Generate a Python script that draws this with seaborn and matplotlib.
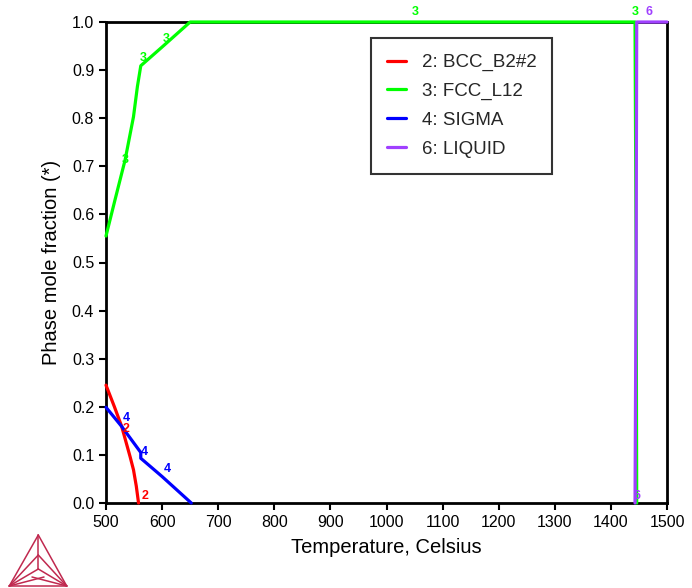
import matplotlib
matplotlib.use("Agg")
import matplotlib.pyplot as plt
import seaborn as sns
import pandas as pd
from matplotlib.lines import Line2D

sns.set_theme(style="white")
plt.rcParams['font.family'] = ['Liberation Sans', 'DejaVu Sans']

# Data (Temperature in Celsius, phase mole fraction)
bcc_T = [500, 515, 528, 543, 549, 554, 558]
bcc_y = [0.245, 0.20, 0.159, 0.096, 0.069, 0.035, 0.0]

fcc_T = [500, 516, 534, 549, 556, 562, 600, 650, 1443, 1445, 1446]
fcc_y = [0.555, 0.63, 0.713, 0.803, 0.866, 0.909, 0.948, 1.0, 1.0, 0.5, 0.0]

sigma_T = [500, 528, 562, 562, 600, 652]
sigma_y = [0.199, 0.159, 0.105, 0.093, 0.055, 0.0]

liquid_T = [1443, 1445, 1446, 1500]
liquid_y = [0.0, 0.5, 1.0, 1.0]

series_names = ["2: BCC_B2#2", "3: FCC_L12", "4: SIGMA", "6: LIQUID"]
colors = ["#FF0000", "#00FF00", "#0000FF", "#A040FF"]

# curve labels: (text, T, y, color index)
lab_text = ["3", "3", "3", "3", "3", "6", "6", "4", "4", "4", "2", "2"]
lab_T = [534, 567, 607, 1051, 1443, 1468, 1446, 536, 569, 610, 536, 569]
lab_y = [0.713, 0.925, 0.965, 1.02, 1.02, 1.02, 0.015, 0.177, 0.105, 0.07, 0.153, 0.015]
lab_c = [1, 1, 1, 1, 1, 3, 3, 2, 2, 2, 0, 0]

fig = plt.figure(figsize=(6.92, 5.88), dpi=100)
ax = fig.add_axes([106/692, 1-503/588, (667-106)/692, (503-22)/588])

frames = []
for name, T, y in zip(series_names, [bcc_T, fcc_T, sigma_T, liquid_T], [bcc_y, fcc_y, sigma_y, liquid_y]):
    frames.append(pd.DataFrame({"T": T, "y": y, "phase": name, "order": range(len(T))}))
df = pd.concat(frames, ignore_index=True)

for name, c in zip(series_names, colors):
    sub = df[df.phase == name]
    sns.lineplot(data=sub, x="T", y="y", sort=False, estimator=None, color=c,
                 linewidth=2.3, ax=ax, legend=False, clip_on=False, zorder=3)

for t, T, y, ci in zip(lab_text, lab_T, lab_y, lab_c):
    ax.text(T, y, t, color=colors[ci], fontsize=9, fontweight="bold",
            ha="center", va="center", clip_on=False, zorder=4)

ax.set_xlim(500, 1500)
ax.set_ylim(0, 1.0)
ax.set_xticks(range(500, 1501, 100))
ax.set_yticks([i/10 for i in range(11)])
ax.set_yticklabels([f"{i/10:.1f}" for i in range(11)])
ax.tick_params(axis="both", direction="out", length=5, width=1.5, color="black",
               labelsize=11.5, bottom=True, left=True, labelcolor="black")
for s in ax.spines.values():
    s.set_color("black")
    s.set_linewidth(2)
ax.set_xlabel("Temperature, Celsius", fontsize=14.5, color="black", labelpad=6)
ax.set_ylabel("Phase mole fraction (*)", fontsize=14.5, color="black", labelpad=8)

handles = [Line2D([0], [0], color=c, linewidth=2.3) for c in colors]
leg = ax.legend(handles, series_names, loc="upper left",
                bbox_to_anchor=((371-106)/561, (503-38)/481), fontsize=13.5,
                frameon=True, fancybox=False, edgecolor="black", handlelength=1.0,
                handletextpad=0.85, labelspacing=0.62, borderpad=0.85, borderaxespad=0)
leg.get_frame().set_linewidth(1.5)

# Thermo-Calc style logo
lc = "#C0294F"
W, H = 692, 588
def P(x, y):
    return (x / W, 1 - y / H)
A, B, C = (38.3, 535), (9.3, 586), (66.7, 586)
G = (38.3, 569)
segs = [(A, B), (B, C), (C, A), (A, G), (B, G), (C, G)]
segs += [(B, (38.3, 555)), (C, (38.3, 555)), (B, (44, 577)), (C, (32, 577))]
for p, q in segs:
    x0, y0 = P(*p); x1, y1 = P(*q)
    fig.add_artist(Line2D([x0, x1], [y0, y1], color=lc, linewidth=1.1,
                          transform=fig.transFigure))

fig.savefig("out.png", dpi=100, facecolor="white")
